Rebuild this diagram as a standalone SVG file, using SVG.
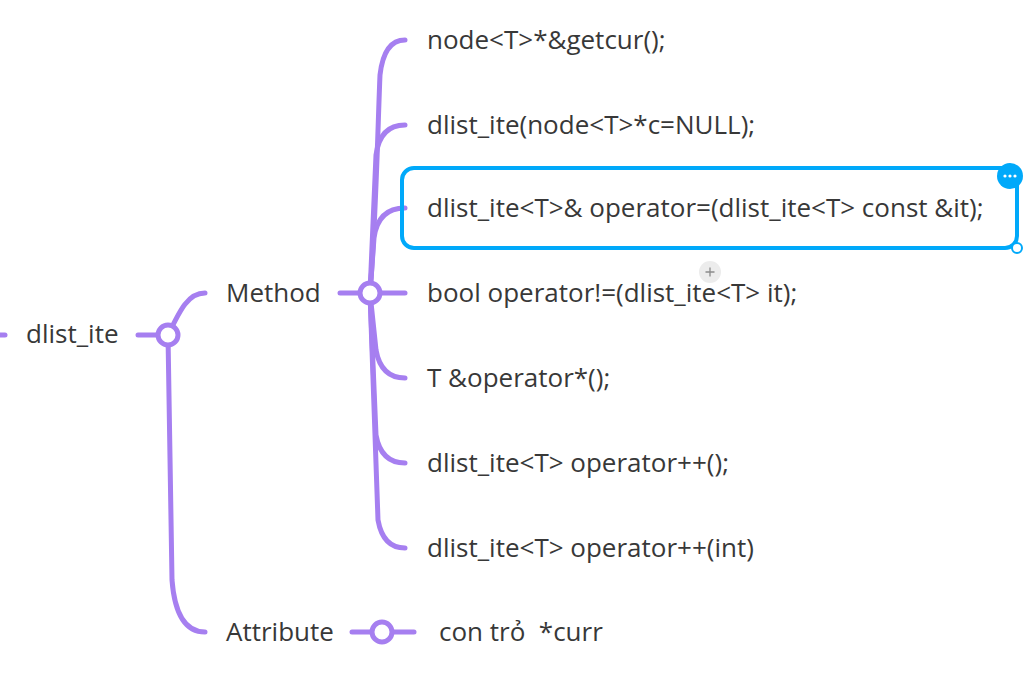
<svg xmlns="http://www.w3.org/2000/svg" width="1028" height="681" viewBox="0 0 1028 681">
<style>
.ln{fill:none;stroke:#A67FF0;stroke-width:5;stroke-linecap:round}
.hub{fill:#fff;stroke:#A67FF0;stroke-width:5}
.t{font-family:"Open Sans",Lato,"DejaVu Sans",sans-serif;font-size:26px;fill:#383838}
</style>
<rect width="1028" height="681" fill="#fff"/>
<g id="connectors">
<path class="ln" d="M-2,335 L5,335"/>
<path class="ln" d="M138,335 L160,335"/>
<path class="ln" d="M168,335 C180,310 188,293 205,293"/>
<path class="ln" d="M168,335 L172,580 Q176,632 205,632"/>
<path class="ln" d="M340,293 L405,293"/>
<path class="ln" d="M370,293 C376,220 378,120 380,75 Q384,40 405,40"/>
<path class="ln" d="M370,293 L376,155 Q380,125 405,125"/>
<path class="ln" d="M370,293 L374,238 Q378,208 405,208"/>
<path class="ln" d="M370,293 L376,350 Q381,378 405,378"/>
<path class="ln" d="M370,293 L376,435 Q381,463 405,463"/>
<path class="ln" d="M370,293 L378,520 Q383,548 405,548"/>
<path class="ln" d="M352,632 L414,632"/>
</g>
<g id="root"><text class="t" x="26" y="343">dlist_ite</text><circle class="hub" cx="168" cy="335" r="10"/></g>
<g id="method"><text class="t" x="226" y="302">Method</text><circle class="hub" cx="370" cy="293" r="10"/></g>
<g id="attribute"><text class="t" x="226" y="641">Attribute</text><circle class="hub" cx="382" cy="632" r="10"/></g>
<g id="m1"><text class="t" x="427" y="49">node&lt;T&gt;*&amp;getcur();</text></g>
<g id="m2"><text class="t" x="427" y="134">dlist_ite(node&lt;T&gt;*c=NULL);</text></g>
<g id="m3">
<rect x="402" y="168" width="615" height="80" rx="12" fill="none" stroke="#00A9FA" stroke-width="4"/>
<text class="t" x="427" y="217">dlist_ite&lt;T&gt;&amp; operator=(dlist_ite&lt;T&gt; const &amp;it);</text>
<circle cx="1010" cy="176" r="13" fill="#00A9FA"/>
<circle cx="1005" cy="176" r="1.6" fill="#fff"/><circle cx="1010" cy="176" r="1.6" fill="#fff"/><circle cx="1015" cy="176" r="1.6" fill="#fff"/>
<circle cx="1017" cy="248" r="5" fill="#fff" stroke="#00A9FA" stroke-width="2"/>
</g>
<g id="m4"><text class="t" x="427" y="302">bool operator!=(dlist_ite&lt;T&gt; it);</text>
<circle cx="710" cy="272" r="11" fill="#ececec"/>
<path d="M705.5,272 L714.5,272 M710,267.5 L710,276.5" stroke="#8a8a8a" stroke-width="1.3"/>
</g>
<g id="m5"><text class="t" x="427" y="387">T &amp;operator*();</text></g>
<g id="m6"><text class="t" x="427" y="472">dlist_ite&lt;T&gt; operator++();</text></g>
<g id="m7"><text class="t" x="427" y="557">dlist_ite&lt;T&gt; operator++(int)</text></g>
<g id="a1"><text class="t" x="439" y="641" xml:space="preserve">con trỏ  *curr</text></g>
</svg>
